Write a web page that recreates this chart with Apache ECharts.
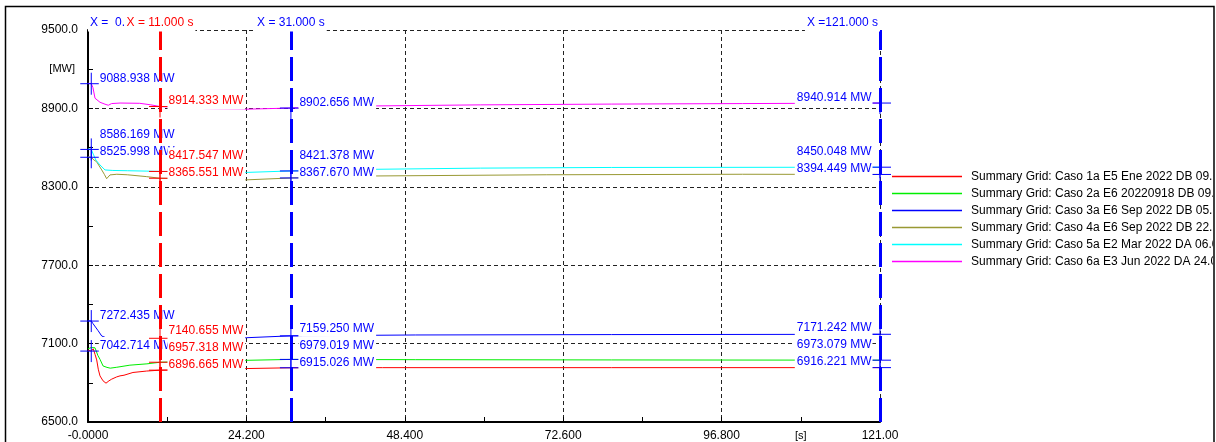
<!DOCTYPE html>
<html><head><meta charset="utf-8">
<script src="https://cdn.jsdelivr.net/npm/echarts@6/dist/echarts.min.js"></script>
<style>html,body{margin:0;padding:0;background:#fff}#c{width:1216px;height:442px}</style>
</head><body><div id="c"></div>
<script>
// ---------------- data ----------------
const seriesNames = [
  'Summary Grid: Caso 1a E5 Ene 2022 DB 09.00 h',
  'Summary Grid: Caso 2a E6 20220918 DB 09.30 h',
  'Summary Grid: Caso 3a E6 Sep 2022 DB 05.00 h',
  'Summary Grid: Caso 4a E6 Sep 2022 DB 22.00 h',
  'Summary Grid: Caso 5a E2 Mar 2022 DA 06.00 h',
  'Summary Grid: Caso 6a E3 Jun 2022 DA 24.00 h'
];
// [time s, MW]
const caso1 = [[0,7050],[0.5,7042.714],[0.8,7060],[1.07,7018],[1.33,6975],[1.57,6904],[1.83,6853],[2.3,6815],[2.75,6797],[3.2,6815],[3.62,6828],[4.38,6845],[4.89,6853],[5.5,6858],[6.87,6879],[8.97,6890],[11,6896.665],[18,6903],[24.2,6909],[31,6915.026],[45,6916],[80,6916],[121,6916.221]];
const caso2 = [[0,7060],[0.5,7070],[1.07,7068],[1.5,7010],[1.83,6980],[2.3,6929],[2.9,6918],[3.4,6912],[4.4,6919],[6.4,6935],[9,6945],[11,6957.318],[18,6966],[24.2,6972],[31,6979.019],[50,6977],[80,6975],[121,6973.079]];
const caso3 = [[0,7275],[0.5,7272.435],[0.76,7253],[1.53,7200],[2.1,7158],[3,7140],[5,7135],[8,7138],[11,7140.655],[18,7142],[24.2,7145],[31,7159.25],[50,7166],[80,7169],[121,7171.242]];
const caso4 = [[0,8530],[0.5,8525.998],[0.9,8505],[1.3,8493],[2.1,8429],[2.5,8395],[2.85,8362],[3.36,8391],[4.4,8396],[6,8392],[8.9,8378],[11,8365.551],[18,8358],[24.2,8353],[31,8367.67],[44,8383],[70,8392],[100,8396],[121,8394.449]];
const caso5 = [[0,8590],[0.5,8586.169],[0.8,8550],[1.2,8505],[1.83,8467],[2.6,8429],[3.8,8425],[6,8423],[9,8420],[11,8417.547],[18,8413],[24.2,8410],[31,8421.378],[44,8434],[60,8443],[80,8448],[121,8450.048]];
const caso6 = [[0,9092],[0.5,9088.938],[0.75,9060],[1.07,8978],[1.83,8947],[2.6,8932],[3.1,8924],[3.6,8937],[4.9,8941],[7.9,8939],[9.5,8928],[11,8914.333],[18,8898],[24.2,8894],[31,8902.656],[44,8919],[60,8927],[80,8933],[100,8937],[121,8940.914]];
const allData = [caso1, caso2, caso3, caso4, caso5, caso6];

const cursorTimes = [0.5, 11, 31, 121];
const cursorValuesA = [7042.714, null, 7272.435, 8525.998, 8586.169, 9088.938];
const cursorValuesB = [6896.665, 6957.318, 7140.655, 8365.551, 8417.547, 8914.333];
const cursorValuesC = [6915.026, 6979.019, 7159.250, 8367.670, 8421.378, 8902.656];
const cursorValuesD = [6916.221, 6973.079, 7171.242, 8394.449, 8450.048, 8940.914];
const cursorValues = [cursorValuesA, cursorValuesB, cursorValuesC, cursorValuesD];

const xTicks = [0, 24.2, 48.4, 72.6, 96.8, 121];
const xTickLabels = ['-0.0000', '24.200', '48.400', '72.600', '96.800', '121.00'];
const yTicks = [6500, 7100, 7700, 8300, 8900, 9500];
const yTickLabels = ['6500.0', '7100.0', '7700.0', '8300.0', '8900.0', '9500.0'];
const yUnit = '[MW]', yUnitAt = 9200;
const xUnit = '[s]', xUnitAt = 108.9;

// ---------------- style ----------------
const FONT = "'Liberation Sans', Arial, sans-serif";
const seriesColors = ['#ff0000', '#00ee00', '#0000ff', '#999933', '#00ffff', '#ff00ff'];
const cursorColors = ['#0000ff', '#ff0000', '#0000ff', '#0000ff'];
const cursorSide = ['right', 'right', 'right', 'left'];
const cursorShowLine = [false, true, true, true];
const CROSS = 'path://M0,11L22,11M11,0L11,22';

const chart = echarts.init(document.getElementById('c'), null, {renderer: 'canvas'});

function tickLabel(ticks, labels) {
  return function (v) {
    for (let i = 0; i < ticks.length; i++) if (Math.abs(v - ticks[i]) < 1e-6) return labels[i];
    return '';
  };
}

function buildOption(offsets, titleLayout, units) {
  const series = [];
  allData.forEach((d, i) => {
    series.push({
      id: 'line' + i, type: 'line', name: seriesNames[i], data: d,
      showSymbol: false, symbol: 'none', z: 2, silent: true,
      color: seriesColors[i],
      lineStyle: {width: 1, color: seriesColors[i]},
      itemStyle: {color: seriesColors[i], borderColor: seriesColors[i], borderWidth: 0},
      emphasis: {disabled: true}
    });
  });
  cursorTimes.forEach((t, k) => {
    const data = [];
    cursorValues[k].forEach((v, i) => {
      if (v == null) return;
      const off = offsets ? offsets[k][i] : -5.5;
      data.push({value: [t, v], label: {offset: [0, off]}});
    });
    const s = {
      id: 'cursor' + k, type: 'scatter', data: data, z: 10 + k, silent: true, clip: false,
      symbol: CROSS, symbolSize: 22,
      itemStyle: {color: 'rgba(0,0,0,0)', borderColor: cursorColors[k], borderWidth: 1, opacity: 1},
      emphasis: {disabled: true},
      label: {
        show: true, position: cursorSide[k], distance: -4,
        formatter: p => p.value[1].toFixed(3) + ' MW',
        color: cursorColors[k], fontSize: 12, fontFamily: FONT, lineHeight: 13,
        backgroundColor: '#ffffff',
        padding: cursorSide[k] === 'right' ? [2, 2, 2, 1] : [2, 1, 2, 2]
      }
    };
    if (cursorShowLine[k]) {
      s.markLine = {
        silent: true, z: 10 + k, symbol: ['none', 'none'], animation: false,
        label: {show: false},
        lineStyle: {color: cursorColors[k], width: 3, type: [24, 7], opacity: 1},
        emphasis: {disabled: true},
        data: [{xAxis: t}]
      };
    }
    series.push(s);
  });
  series.push({
    id: 'titles', type: 'scatter', z: 14, silent: true, clip: false,
    symbol: 'circle', symbolSize: 1,
    itemStyle: {color: 'rgba(0,0,0,0)', opacity: 1},
    emphasis: {disabled: true},
    data: cursorTimes.map((t, k) => ({
      value: [t, yTicks[yTicks.length - 1]],
      label: {
        color: cursorColors[k],
        align: titleLayout ? titleLayout[k].align : 'center',
        offset: [titleLayout ? titleLayout[k].dx : 0, 0]
      }
    })),
    label: {
      show: true, position: 'top', distance: -2,
      formatter: p => 'X =' + p.value[0].toFixed(3).padStart(7, ' ') + ' s',
      fontSize: 12, fontFamily: FONT, lineHeight: 14,
      backgroundColor: '#ffffff', padding: [2, 2, 2, 2]
    }
  });

  const graphic = [
    {type: 'rect', z: 100, silent: true, shape: {x: 1213, y: 0, width: 10, height: 442}, style: {fill: '#ffffff'}},
    {type: 'rect', z: 101, silent: true, shape: {x: 5.5, y: 6.5, width: 1208.5, height: 500}, style: {fill: 'none', stroke: '#000', lineWidth: 1.5}}
  ];
  if (units) {
    graphic.push({type: 'text', z: 50, silent: true, x: units.yx, y: units.yy,
      style: {text: yUnit, fill: '#000', font: '11px ' + FONT, align: 'right', verticalAlign: 'middle'}});
    graphic.push({type: 'text', z: 50, silent: true, x: units.xx, y: units.xy,
      style: {text: xUnit, fill: '#000', font: '11px ' + FONT, align: 'center', verticalAlign: 'middle'}});
  }

  return {
    animation: false,
    backgroundColor: '#ffffff',
    grid: {left: 88, right: 336, top: 30, bottom: 19, containLabel: false},
    legend: {
      orient: 'vertical', left: 887, top: 164, itemWidth: 70, itemHeight: 1.5, itemGap: 2,
      icon: 'rect', selectedMode: false,
      itemStyle: {borderWidth: 0},
      data: seriesNames.map((n, i) => ({
        name: n,
        itemStyle: {color: seriesColors[i], borderWidth: 0, borderColor: seriesColors[i], opacity: 1},
        lineStyle: {color: seriesColors[i]}
      })),
      textStyle: {fontSize: 12, fontFamily: FONT, color: '#000', lineHeight: 15, padding: [0, 0, 0, 4]}
    },
    xAxis: {
      type: 'value', min: xTicks[0], max: xTicks[xTicks.length - 1], interval: xTicks[1] - xTicks[0],
      axisLine: {show: true, onZero: false, lineStyle: {color: '#000', width: 2}},
      axisTick: {show: true, inside: true, length: 5, lineStyle: {color: '#000'}},
      minorTick: {show: true, splitNumber: 2, length: 5, lineStyle: {color: '#000'}},
      splitLine: {show: true, lineStyle: {color: '#222', width: 1, type: [4, 3]}},
      axisLabel: {formatter: tickLabel(xTicks, xTickLabels), fontSize: 12, fontFamily: FONT, color: '#000', margin: 8, showMinLabel: true, showMaxLabel: true}
    },
    yAxis: {
      type: 'value', min: yTicks[0], max: yTicks[yTicks.length - 1], interval: yTicks[1] - yTicks[0],
      axisLine: {show: true, onZero: false, lineStyle: {color: '#000', width: 2}},
      axisTick: {show: true, inside: true, length: 5, lineStyle: {color: '#000'}},
      minorTick: {show: true, splitNumber: 2, length: 5, lineStyle: {color: '#000'}},
      splitLine: {show: true, lineStyle: {color: '#222', width: 1, type: [4, 3]}},
      axisLabel: {formatter: tickLabel(yTicks, yTickLabels), fontSize: 12, fontFamily: FONT, color: '#000', margin: 10}
    },
    tooltip: {show: false},
    graphic: graphic,
    series: series
  };
}

chart.setOption(buildOption(null, null, null));

// label stacking computed from the library's scales
const px = (t, v) => chart.convertToPixel({xAxisIndex: 0, yAxisIndex: 0}, [t, v]);
const offsets = cursorTimes.map((t, k) => {
  const items = [];
  cursorValues[k].forEach((v, i) => { if (v != null) items.push({i: i, y: px(t, v)[1]}); });
  items.sort((a, b) => b.y - a.y);
  const res = [];
  let prev = Infinity;
  items.forEach(it => {
    const pos = Math.min(it.y - 5.5, prev - 17);
    prev = pos;
    res[it.i] = pos - it.y;
  });
  return res;
});
const ctx = document.createElement('canvas').getContext('2d');
ctx.font = '12px ' + FONT;
const gl = px(xTicks[0], yTicks[0])[0];
const gr = px(xTicks[xTicks.length - 1], yTicks[0])[0];
const titleLayout = cursorTimes.map(t => {
  const x = px(t, yTicks[0])[0];
  const w = ctx.measureText('X =' + t.toFixed(3).padStart(7, ' ') + ' s').width + 4;
  if (x - w / 2 < gl) return {align: 'left', dx: gl - x};
  if (x + w / 2 > gr) return {align: 'right', dx: gr - x};
  return {align: 'center', dx: 0};
});
const axisBottom = px(xTicks[0], yTicks[0]);
const units = {
  yx: axisBottom[0] - 13, yy: px(xTicks[0], yUnitAt)[1],
  xx: px(xUnitAt, yTicks[0])[0], xy: axisBottom[1] + 14
};
chart.setOption(buildOption(offsets, titleLayout, units));
</script>
</body></html>
